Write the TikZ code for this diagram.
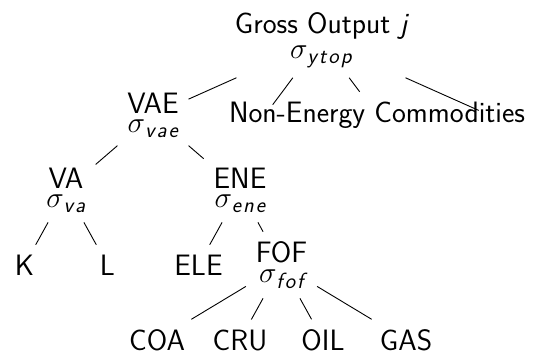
\RequirePackage{fix-cm}
\documentclass[tikz,border=0pt]{standalone}
\usepackage{amsmath}
\newcommand{\sgsub}[1]{\sigma_{\text{\fontsize{22}{0}\selectfont\itshape\kern1pt #1}}}
\newcommand{\lsp}{\kern2pt}
\begin{document}
\begin{tikzpicture}[x=1pt,y=-1pt,
  tnode/.style={font={\fontsize{29.5}{0}\selectfont\sffamily\setlength{\lineskip}{7pt}}, align=center, inner sep=9.8pt},
  branch/.style={line width=0.9pt}]
\useasboundingbox (0,0) rectangle (537,354);
% level 0
\node[tnode] (root) at (321,40) {Gross Output {\itshape j}\\$\sgsub{y\lsp t\lsp o\lsp p}$};
% level 1
\node[tnode] (vae) at (153,115) {VAE\\$\sgsub{v\lsp a\lsp e}$};
\coordinate (g2) at (272.7,104.7);
\node[tnode] (nec) at (377,115) {Non-Energy Commodities};
\coordinate (g4) at (478.7,110.4);
% level 2
\node[tnode] (va) at (66,190) {VA\\$\sgsub{v\lsp a}$};
\node[tnode] (ene) at (240,190) {ENE\\$\sgsub{e\lsp n\lsp e}$};
% level 3
\node[tnode] (k) at (24.5,265) {K};
\node[tnode] (l) at (107.5,265) {L};
\node[tnode] (ele) at (198.5,265) {ELE};
\node[tnode] (fof) at (281.5,265) {FOF\\$\sgsub{f\lsp o\lsp f}$};
% level 4
\node[tnode] (coa) at (157,340) {COA};
\node[tnode] (cru) at (240,340) {CRU};
\node[tnode] (oil) at (323,340) {OIL};
\node[tnode] (gas) at (406,340) {GAS};
% connectors
\draw[branch] (root) -- (vae);
\draw[branch] (root) -- (g2);
\draw[branch] (root) -- (nec);
\draw[branch] (root) -- (g4);
\draw[branch] (vae) -- (va);
\draw[branch] (vae) -- (ene);
\draw[branch] (va) -- (k);
\draw[branch] (va) -- (l);
\draw[branch] (ene) -- (ele);
\draw[branch] (ene) -- (fof);
\draw[branch] (fof) -- (coa);
\draw[branch] (fof) -- (cru);
\draw[branch] (fof) -- (oil);
\draw[branch] (fof) -- (gas);
\end{tikzpicture}
\end{document}
